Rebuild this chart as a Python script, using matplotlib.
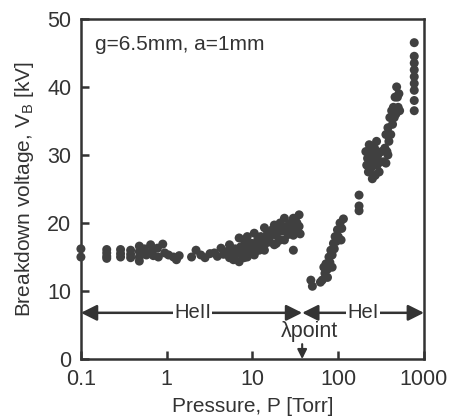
import matplotlib
matplotlib.use("Agg")
import matplotlib.pyplot as plt

plt.rcParams['font.family'] = ['Liberation Sans', 'DejaVu Sans']

# HeII region (below lambda point)
p_he2 = [0.1, 0.1,
         0.2, 0.2, 0.2, 0.2,
         0.29, 0.29, 0.29,
         0.38, 0.38, 0.38,
         0.48, 0.48, 0.48, 0.48,
         0.55, 0.58, 0.65, 0.68, 0.7, 0.78, 0.8, 0.9, 0.95,
         1.05, 1.2, 1.3, 1.4,
         1.95, 2.2, 2.5, 2.8, 3.2, 3.6, 3.9, 4.3, 4.6, 5.0,
         5.4, 5.4, 5.8, 6.0, 6.3, 6.6,
         7.0, 7.0, 7.3, 7.6, 7.9, 8.2,
         8.7, 8.7, 9.2, 9.8, 10.5, 10.5, 11.0,
         11.5, 12.0, 12.5, 13.0, 13.8, 13.8, 14.5,
         15.0, 16.0, 17.0, 18.0, 18.0, 19.0, 20.0,
         21.0, 22.0, 23.6, 23.6, 25.0, 26.0, 28.0,
         30.0, 30.0, 31.0, 32.0, 33.0, 35.0, 35.0, 36.0, 30.0,
         6.8, 8.0, 9.5, 11.0, 12.0, 14.0, 16.5, 19.0, 21.0, 24.0, 27.0, 33.0]
v_he2 = [16.2, 15.0,
         16.1, 15.6, 15.1, 14.8,
         16.1, 15.5, 15.0,
         16.0, 15.4, 14.9,
         16.6, 15.8, 15.0, 14.4,
         16.2, 15.3, 16.8, 15.9, 15.2, 16.3, 15.0, 16.9, 15.6,
         15.3, 15.0, 14.6, 15.2,
         15.0, 16.0, 15.3, 14.9, 15.5, 15.6, 15.1, 16.3, 15.4, 15.8,
         16.8, 14.9, 15.6, 14.6, 16.2, 15.5,
         17.8, 14.3, 16.5, 15.2, 16.0, 17.2,
         18.0, 15.0, 16.4, 17.0, 18.5, 15.3, 16.6,
         17.5, 16.0, 18.0, 17.0, 19.3, 16.0, 17.8,
         18.5, 17.2, 19.0, 19.7, 16.8, 18.2, 19.2,
         17.5, 18.8, 20.7, 17.5, 19.5, 18.3, 20.0,
         20.7, 18.2, 19.6, 20.2, 18.8, 21.2, 19.5, 18.4, 16.0,
         15.8, 14.9, 15.6, 15.9, 16.8, 16.9, 18.2, 17.0, 20.0, 19.2, 18.8, 20.0]

# HeI region (above lambda point)
p_he1 = [48, 50, 62, 65,
         68, 70, 72, 75, 75, 78, 80, 82, 85, 85, 88, 90,
         92, 95, 98, 100, 105, 108, 110, 115,
         175, 175, 175,
         210, 215, 220, 225, 230, 235, 240, 245, 250, 255,
         260, 265, 270, 275, 280, 285, 290, 300, 310, 320,
         340, 350, 360, 360, 370, 380, 380, 390, 400, 410,
         420, 430, 440, 450, 460, 470, 480, 490, 500, 510, 520,
         770, 770, 770, 770, 770, 770, 770, 770, 770]
v_he1 = [11.6, 10.7, 11.3, 11.6,
         13.5, 12.6, 14.0, 13.2, 12.0, 15.0, 14.2, 16.0, 15.3, 13.5, 17.0, 16.2,
         18.0, 17.3, 19.0, 18.0, 20.0, 17.5, 19.2, 20.6,
         24.1, 22.5, 21.8,
         30.5, 28.5, 29.5, 27.5, 31.5, 29.0, 28.0, 30.5, 26.5, 29.5,
         28.5, 31.0, 27.0, 29.8, 32.0, 28.5, 30.0, 27.5, 29.0, 30.5,
         29.0, 31.0, 33.0, 28.8, 30.5, 34.0, 30.0, 32.0, 35.5, 33.0,
         36.5, 34.5, 37.0, 35.5, 38.5, 36.0, 40.0, 38.5, 37.0, 39.0, 36.5,
         46.5, 44.5, 43.5, 42.5, 41.5, 40.5, 39.5, 38.0, 36.5]

x_ticks = [0.1, 1, 10, 100, 1000]
x_ticklabels = ['0.1', '1', '10', '100', '1000']
y_ticks = [0, 10, 20, 30, 40, 50]
lambda_p = 38
arrow_v = 6.8

ink = '#333333'
dot = '#404040'

fig = plt.figure(figsize=(4.52, 4.19), dpi=100)
ax = fig.add_axes([0.179, 0.143, 0.759, 0.812])

ax.scatter(p_he2 + p_he1, v_he2 + v_he1, s=42, color=dot, edgecolors='none',
           clip_on=False, zorder=3)

ax.set_xscale('log')
ax.set_xlim(0.1, 1000)
ax.set_ylim(0, 50)
ax.set_xticks(x_ticks)
ax.set_xticklabels(x_ticklabels)
ax.minorticks_off()
ax.set_yticks(y_ticks)
ax.tick_params(direction='in', length=6, width=1.8, color=ink, labelsize=15.5,
               labelcolor=ink, pad=7)
for s in ax.spines.values():
    s.set_linewidth(1.8)
    s.set_color(ink)

ax.set_xlabel('Pressure, P [Torr]', fontsize=15, color=ink, labelpad=5)
ax.set_ylabel('Breakdown voltage, V$_\\mathregular{B}$ [kV]', fontsize=15,
              color=ink, labelpad=8)

ax.text(0.145, 46.3, 'g=6.5mm, a=1mm', fontsize=15, color=ink, va='center', ha='left')

arr = dict(arrowstyle='<|-|>', color=ink, lw=1.8, mutation_scale=24,
           shrinkA=0, shrinkB=0)
ax.annotate('', xy=(0.1, arrow_v), xytext=(lambda_p, arrow_v), arrowprops=arr, zorder=2)
ax.annotate('', xy=(lambda_p, arrow_v), xytext=(1000, arrow_v), arrowprops=arr, zorder=2)
ax.text(2.0, arrow_v, 'HeII', fontsize=14.5, color=ink, ha='center', va='center',
        bbox=dict(facecolor='white', edgecolor='none', pad=1), zorder=4)
ax.text(195, arrow_v, 'HeI', fontsize=14.5, color=ink, ha='center', va='center',
        bbox=dict(facecolor='white', edgecolor='none', pad=1), zorder=4)
ax.text(46, 4.0, '\u03bbpoint', fontsize=15.5, color=ink, ha='center', va='center')
ax.annotate('', xy=(lambda_p, 0), xytext=(lambda_p, 2.2),
            arrowprops=dict(arrowstyle='-|>', color=ink, lw=1.5, mutation_scale=14,
                            shrinkA=0, shrinkB=0))

fig.savefig('out.png', dpi=100)
